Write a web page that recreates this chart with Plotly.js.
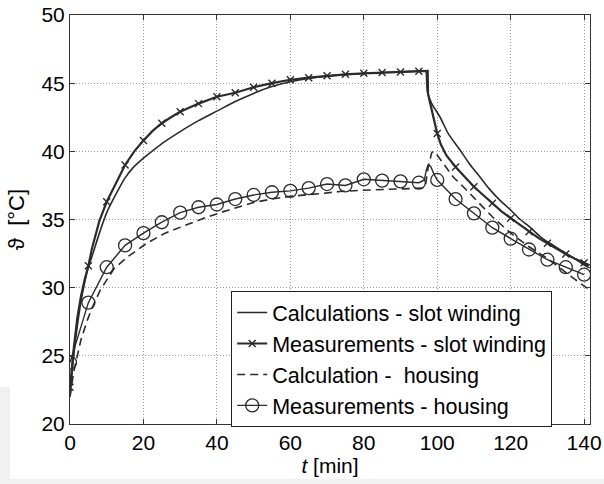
<!DOCTYPE html>
<html><head><meta charset="utf-8">
<script src="https://cdn.plot.ly/plotly-3.0.1.min.js"></script>
<style>html,body{margin:0;padding:0;background:#fff}</style>
</head><body><div id="chart" style="width:604px;height:484px"></div>
<script>
// ---- Data (time in min, temperature in °C) ----
const calcSlotT = [0,1,2,3,4,5,6,8,10,12,14,15,17,20,23,26,30,35,40,45,50,55,60,65,70,75,80,85,90,96.5,96.9,97.3,98.5,100.8,103,106.2,109,111.7,114,117.1,120,122.6,125,128,131,133.5,137,139.8,141.5];
const calcSlot  = [22.0,25.0,27.2,29.0,30.4,31.5,32.3,34.0,35.5,36.6,37.6,38.05,38.75,39.5,40.15,40.75,41.45,42.25,42.95,43.65,44.25,44.75,45.1,45.35,45.52,45.63,45.71,45.78,45.83,45.9,45.9,44.4,43.5,42.5,41.3,40.1,39.0,38.1,37.3,36.4,35.7,35.0,34.5,33.75,33.2,32.77,32.2,31.7,31.45];

const measSlotT = [0,0.5,1,2,3,4,5,6,7,8,10,12,15,17.5,20,22.5,25,27.5,30,35,40,45,50,55,60,65,70,75,80,85,90,95,97.4,97.5,98.5,99.5,100,101,102.5,105,107.5,110,112.5,115,117.5,120,122.5,125,127.5,130,132.5,135,137.5,140,141.5];
const measSlot  = [22.7,24.2,25.5,27.8,29.4,30.6,31.6,32.9,34.0,34.9,36.3,37.4,39.0,40.0,40.8,41.5,42.06,42.5,42.9,43.5,44.0,44.3,44.7,45.0,45.25,45.4,45.55,45.65,45.72,45.78,45.82,45.88,45.9,44.2,43.1,41.8,41.3,40.5,39.7,38.85,38.1,37.4,36.8,36.2,35.6,35.1,34.6,34.1,33.65,33.26,32.85,32.47,32.12,31.83,31.65];

const calcHouseT = [0,1,2,3,4.7,6,8.2,10,12,15.9,20.9,25.9,30.9,35.9,40.9,46,50,55,60,68,73.5,80,85,90,96,96.8,97.5,98.5,99,99.5,101.7,104.4,107.1,110,115,120,125,130,135,139,141.5];
const calcHouse  = [22.0,23.8,25.0,26.2,27.6,28.5,29.8,30.6,31.4,32.3,33.26,34.0,34.55,35.04,35.5,35.95,36.25,36.5,36.7,36.9,37.05,37.15,37.2,37.25,37.3,37.5,38.8,39.9,40.0,39.9,39.1,38.1,37.4,36.6,35.2,34.0,33.0,32.15,31.1,30.3,29.85];

const measHouseT = [0,5,10,15,20,25,30,35,40,45,50,55,60,65,70,75,80,85,90,95,96.5,97,97.5,98.2,99,100,105,110,115,120,125,130,135,140];
const measHouse  = [24.5,28.9,31.5,33.1,34.0,34.8,35.5,35.9,36.1,36.5,36.8,37.0,37.1,37.3,37.6,37.5,37.95,37.85,37.8,37.7,37.9,38.6,39.0,38.9,38.4,37.9,36.5,35.45,34.4,33.6,32.8,32.05,31.5,30.95];

const seriesNames = ['Calculations - slot winding','Measurements - slot winding','Calculation -  housing','Measurements - housing'];

// ---- Styling ----
const ink = '#2b2b2b';
const hidden = 'rgba(0,0,0,0)';
const markAt5 = ts => ts.map(t => (Number.isInteger(t) && t % 5 === 0) ? ink : hidden);

const traces = [
  {x: calcSlotT, y: calcSlot, name: seriesNames[0], mode: 'lines',
   line: {color: ink, width: 1.6, shape: 'spline', smoothing: 0.6}},
  {x: measSlotT, y: measSlot, name: seriesNames[1], mode: 'lines+markers',
   line: {color: ink, width: 2.2},
   marker: {symbol: 'x-thin-open', size: 7, color: markAt5(measSlotT), line: {width: 1.4}}},
  {x: calcHouseT, y: calcHouse, name: seriesNames[2], mode: 'lines',
   line: {color: ink, width: 1.6, dash: '8px,5px'}},
  {x: measHouseT, y: measHouse, name: seriesNames[3], mode: 'lines+markers',
   line: {color: ink, width: 1.4},
   marker: {symbol: 'circle-open', size: 13, color: markAt5(measHouseT), line: {width: 1.3}}}
];

const axisCommon = {
  showgrid: true, gridcolor: '#9a9a9a', griddash: '1px,2px', gridwidth: 1,
  zeroline: false, showline: true, linecolor: '#333', linewidth: 1,
  mirror: 'ticks', ticks: 'inside', ticklen: 5, tickcolor: '#333',
  tickfont: {size: 21, color: '#000'}
};

const layout = {
  width: 604, height: 484,
  margin: {l: 70, r: 14, t: 15, b: 60, pad: 0},
  paper_bgcolor: '#fff', plot_bgcolor: '#fff',
  font: {family: '"Liberation Sans", Arial, Helvetica, sans-serif', size: 21, color: '#000'},
  showlegend: true,
  xaxis: Object.assign({}, axisCommon, {
    range: [0, 141.6], tick0: 0, dtick: 20,
    title: {text: '<i>t</i> [min]', font: {size: 21}, standoff: 2}
  }),
  yaxis: Object.assign({}, axisCommon, {
    range: [20, 50], tick0: 20, dtick: 5,
    title: {text: 'ϑ\u00a0\u00a0[°C]', font: {size: 22}, standoff: 10}
  }),
  legend: {
    x: 0.31, xanchor: 'left', y: 0.325, yanchor: 'top',
    bgcolor: '#fff', bordercolor: '#222', borderwidth: 1,
    font: {size: 21.5, color: '#000'}, tracegroupgap: 0, itemwidth: 30
  },
  shapes: [
    {type: 'rect', xref: 'paper', yref: 'paper', x0: -0.14, x1: 1.03, y0: -0.15, y1: -0.1345,
     fillcolor: '#f1f1f1', line: {width: 0}, layer: 'below'},
    {type: 'rect', xref: 'paper', yref: 'paper', x0: -0.14, x1: -0.1154, y0: -0.15, y1: 0.0905,
     fillcolor: '#f1f1f1', line: {width: 0}, layer: 'below'}
  ]
};

Plotly.newPlot('chart', traces, layout, {displayModeBar: false, staticPlot: true});
</script>
</body></html>
